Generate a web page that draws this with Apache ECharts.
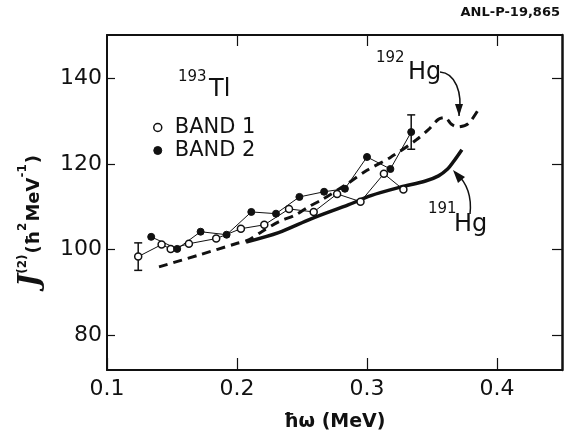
<!DOCTYPE html>
<html>
<head>
<meta charset="utf-8">
<script src="https://cdn.jsdelivr.net/npm/echarts@6.0.0/dist/echarts.min.js"></script>
<style>
  html, body { margin: 0; padding: 0; background: #fff; }
  #chart { width: 564px; height: 432px; }
</style>
</head>
<body>
<div id="chart"></div>
<script>
// hbar*omega (MeV) / J(2) values
const band1X = [0.124, 0.142, 0.149, 0.163, 0.184, 0.203, 0.221, 0.240, 0.259, 0.277, 0.295, 0.313, 0.328];
const band1Y = [98.4, 101.2, 100.2, 101.4, 102.6, 104.9, 105.8, 109.5, 108.8, 113.0, 111.2, 117.7, 114.0];

const band2X = [0.134, 0.154, 0.172, 0.192, 0.211, 0.230, 0.248, 0.267, 0.283, 0.300, 0.318, 0.334];
const band2Y = [103.0, 100.2, 104.2, 103.5, 108.8, 108.4, 112.3, 113.5, 114.2, 121.6, 118.8, 127.4];

// 192Hg (dashed) and 191Hg (thick) reference curves
const hg192X = [0.140, 0.171, 0.199, 0.209, 0.219, 0.232, 0.245, 0.255, 0.265, 0.283, 0.300, 0.318, 0.338, 0.347, 0.355, 0.360, 0.365, 0.370, 0.378, 0.387];
const hg192Y = [96.0, 98.8, 101.4, 102.3, 104.2, 106.5, 108.1, 110.0, 111.6, 115.0, 118.5, 121.5, 125.6, 127.9, 130.4, 130.8, 129.2, 128.6, 129.4, 133.3];

const hg191X = [0.207, 0.232, 0.257, 0.286, 0.303, 0.326, 0.345, 0.355, 0.362, 0.366, 0.373];
const hg191Y = [101.8, 104.0, 107.2, 110.5, 112.6, 114.6, 116.0, 117.2, 118.8, 120.3, 123.3];

// error bars
const errX = [0.124, 0.334];
const errLow = [95.2, 123.4];
const errHigh = [101.6, 131.4];

const xTicks = [0.1, 0.2, 0.3, 0.4];
const yTicks = [80, 100, 120, 140];

const zip = (xs, ys) => xs.map((x, i) => [x, ys[i]]);
const ink = '#111';
const font = 'DejaVu Sans';

const chart = echarts.init(document.getElementById('chart'));

chart.setOption({
  animation: false,
  backgroundColor: '#fff',
  grid: { left: 107, right: 2, top: 35, bottom: 62, outerBoundsMode: 'none', containLabel: false },
  xAxis: [
    {
      type: 'value', min: 0.1, max: 0.45, position: 'bottom',
      axisLine: { lineStyle: { color: ink, width: 2 } },
      axisTick: { inside: true, length: 12, customValues: xTicks, lineStyle: { color: ink, width: 1.2 } },
      axisLabel: {
        customValues: xTicks, margin: 8, color: ink, fontSize: 22, fontFamily: font,
        formatter: v => v.toFixed(1)
      },
      splitLine: { show: false },
      name: 'ħω (MeV)', nameLocation: 'middle', nameGap: 43,
      nameTextStyle: { color: ink, fontSize: 19, fontWeight: 'bold', fontFamily: font }
    },
    {
      type: 'value', min: 0.1, max: 0.45, position: 'top',
      axisLine: { lineStyle: { color: ink, width: 2 } },
      axisTick: { inside: true, length: 11, customValues: [0.2, 0.3, 0.4], lineStyle: { color: ink, width: 1.2 } },
      axisLabel: { show: false },
      splitLine: { show: false }
    }
  ],
  yAxis: [
    {
      type: 'value', min: 72, max: 150, position: 'left',
      axisLine: { show: true, lineStyle: { color: ink, width: 2 } },
      axisTick: { show: true, inside: true, length: 8, customValues: yTicks, lineStyle: { color: ink, width: 1.2 } },
      axisLabel: { customValues: yTicks, margin: 5, color: ink, fontSize: 22, fontFamily: font },
      splitLine: { show: false }
    },
    {
      type: 'value', min: 72, max: 150, position: 'right',
      axisLine: { show: true, lineStyle: { color: ink, width: 2.5 } },
      axisTick: { show: true, inside: true, length: 10, customValues: yTicks, lineStyle: { color: ink, width: 1.2 } },
      axisLabel: { show: false },
      splitLine: { show: false }
    }
  ],
  legend: {
    data: [
      { name: 'BAND 1', icon: 'circle', itemStyle: { color: '#fff', borderColor: ink, borderWidth: 1.5 } },
      { name: 'BAND 2', icon: 'circle', itemStyle: { color: ink, borderColor: ink, borderWidth: 1 } }
    ],
    orient: 'vertical', left: 153, top: 117, padding: 0,
    itemWidth: 8, itemHeight: 8, itemGap: 2,
    textStyle: { color: ink, fontSize: 21, fontFamily: font, padding: [0, 0, 0, 8] }
  },
  series: [
    {
      name: '192Hg', type: 'line', data: zip(hg192X, hg192Y), smooth: 0.3,
      showSymbol: false, symbol: 'none',
      lineStyle: { color: ink, width: 3, type: [9, 6] }, z: 2
    },
    {
      name: '191Hg', type: 'line', data: zip(hg191X, hg191Y), smooth: 0.3,
      showSymbol: false, symbol: 'none',
      lineStyle: { color: ink, width: 3.5 }, z: 2
    },
    {
      name: 'BAND 1', type: 'line', data: zip(band1X, band1Y),
      symbol: 'circle', symbolSize: 7,
      itemStyle: { color: '#fff', borderColor: ink, borderWidth: 1.5 },
      lineStyle: { color: ink, width: 1 }, z: 4
    },
    {
      name: 'BAND 2', type: 'line', data: zip(band2X, band2Y),
      symbol: 'circle', symbolSize: 7,
      itemStyle: { color: ink, borderColor: ink, borderWidth: 1 },
      lineStyle: { color: ink, width: 1 }, z: 4
    },
    {
      name: 'err', type: 'custom', z: 3,
      data: errX.map((x, i) => [x, errLow[i], errHigh[i]]),
      renderItem: (params, api) => {
        const lo = api.coord([api.value(0), api.value(1)]);
        const hi = api.coord([api.value(0), api.value(2)]);
        const w = 4;
        const st = { stroke: ink, lineWidth: 1.5 };
        return {
          type: 'group', children: [
            { type: 'line', shape: { x1: lo[0], y1: lo[1], x2: hi[0], y2: hi[1] }, style: st },
            { type: 'line', shape: { x1: lo[0] - w, y1: lo[1], x2: lo[0] + w, y2: lo[1] }, style: st },
            { type: 'line', shape: { x1: hi[0] - w, y1: hi[1], x2: hi[0] + w, y2: hi[1] }, style: st }
          ]
        };
      }
    }
  ],
  graphic: [
    { type: 'text', x: 560, y: 6, style: { text: 'ANL-P-19,865', align: 'right', font: 'bold 13px "DejaVu Sans"', fill: ink } },
    { type: 'text', x: 178, y: 70, style: { text: '193', font: '15px "DejaVu Sans"', fill: ink } },
    { type: 'text', x: 209, y: 78, style: { text: 'Tl', font: '24px "DejaVu Sans"', fill: ink } },
    { type: 'text', x: 376, y: 51, style: { text: '192', font: '15px "DejaVu Sans"', fill: ink } },
    { type: 'text', x: 408, y: 61, style: { text: 'Hg', font: '24px "DejaVu Sans"', fill: ink } },
    { type: 'text', x: 428, y: 202, style: { text: '191', font: '15px "DejaVu Sans"', fill: ink } },
    { type: 'text', x: 454, y: 213, style: { text: 'Hg', font: '24px "DejaVu Sans"', fill: ink } },
    {
      type: 'bezierCurve',
      shape: { x1: 440, y1: 72, cpx1: 455, cpy1: 73, cpx2: 463, cpy2: 92, x2: 459, y2: 116 },
      style: { stroke: ink, lineWidth: 1.5, fill: null }
    },
    { type: 'polygon', shape: { points: [[455, 104], [463, 104], [459, 116]] }, style: { fill: ink } },
    {
      type: 'bezierCurve',
      shape: { x1: 470, y1: 214, cpx1: 472, cpy1: 196, cpx2: 466, cpy2: 182, x2: 456, y2: 173 },
      style: { stroke: ink, lineWidth: 1.5, fill: null }
    },
    { type: 'polygon', shape: { points: [[453, 170], [465, 177], [458, 183]] }, style: { fill: ink } },
    {
      type: 'text', x: 30, y: 221, rotation: Math.PI / 2,
      style: {
        text: '{j|J}{s|(2)}{p|(ħ}{s|2}{p|MeV}{s|-1}{p|)}',
        align: 'center', verticalAlign: 'middle', fill: ink,
        rich: {
          j: { fontFamily: 'DejaVu Serif', fontStyle: 'italic', fontSize: 28, fontWeight: 'bold', lineHeight: 30, verticalAlign: 'bottom' },
          s: { fontFamily: font, fontSize: 12, fontWeight: 'bold', lineHeight: 30, verticalAlign: 'top', padding: [2, 1, 0, 0] },
          p: { fontFamily: font, fontSize: 18, fontWeight: 'bold', lineHeight: 30, verticalAlign: 'bottom', padding: [0, 0, 2, 0] }
        }
      }
    }
  ]
});
</script>
</body>
</html>
